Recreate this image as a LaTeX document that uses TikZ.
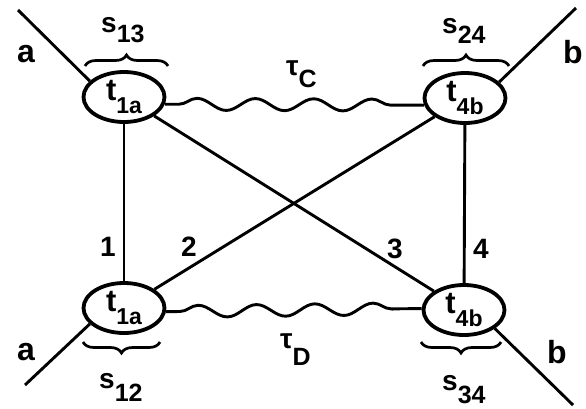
\documentclass[tikz,border=0pt]{standalone}
\usepackage{fontspec}
\setmainfont{Liberation Sans}
\usetikzlibrary{shapes.geometric,decorations.pathmorphing,decorations.pathreplacing}
\newcommand\mysub[3]{\fontsize{28}{30}\selectfont #1\raisebox{-#3}{\fontsize{25}{27}\selectfont #2}}
\newcommand\myvtx[2]{\fontsize{31}{33}\selectfont #1\raisebox{-13pt}{\fontsize{23}{25}\selectfont #2}}
\begin{document}
\begin{tikzpicture}[x=1pt,y=-1pt,
  font=\bfseries,
  vtx/.style={ellipse, draw, line width=3.8pt, minimum width=81pt, minimum height=50pt, inner sep=0pt},
  edge/.style={line width=2.9pt},
  wavy/.style={line width=2.9pt, decorate, decoration={snake, segment length=58.3pt, amplitude=6pt, pre length=14pt, post length=8pt}},
  bracestyle/.style={line width=2.7pt, decorate, decoration={brace, amplitude=11pt}},
  mirrorbrace/.style={line width=2.7pt, decorate, decoration={brace, mirror, amplitude=11pt}},
  lbl/.style={anchor=base west, inner sep=0pt},
  big/.style={lbl, font=\fontsize{32}{34}\selectfont\bfseries},
  num/.style={lbl, font=\fontsize{28}{30}\selectfont\bfseries}
]
\useasboundingbox (0,0) rectangle (586,408);

% vertices
\node[vtx] (TL) at (124,97)  {\myvtx{t}{1a}};
\node[vtx] (TR) at (465,98)  {\myvtx{t}{4b}};
\node[vtx] (BL) at (124,308) {\myvtx{t}{1a}};
\node[vtx] (BR) at (464,310) {\myvtx{t}{4b}};

% external line ends
\coordinate (ATL) at (18,10);
\coordinate (BTR) at (576,8);
\coordinate (ABL) at (25,385);
\coordinate (BBR) at (573,405);

\draw[edge] (ATL) -- (TL.155);
\draw[edge] (BTR) -- (TR.25);
\draw[edge] (ABL) -- (BL.205);
\draw[edge] (BBR) -- (BR.-31);

% internal lines
\draw[edge] (TL) -- (BL);
\draw[edge] (TR) -- (BR);
\draw[edge] (TL) -- (BR);
\draw[edge] (BL) -- (TR);

% wavy lines
\draw[wavy] (TL.-10) -- (TR.190);
\draw[wavy] (BL.-5) -- (BR.178);

% braces
\draw[bracestyle] (85,66) -- (168,66);
\draw[bracestyle] (423,66) -- (509,66);
\draw[mirrorbrace] (83,342) -- (160,342);
\draw[mirrorbrace] (421,342) -- (501,342);

% labels
\node[lbl] (s13) at (101,32) {\mysub{s}{13}{10pt}};
\node[lbl] (s24) at (442,33) {\mysub{s}{24}{10pt}};
\node[lbl] (s12) at (99,388) {\mysub{s}{12}{13pt}};
\node[lbl] (s34) at (442,390) {\mysub{s}{34}{13pt}};
\node[lbl] (tauC) at (286,75) {\mysub{τ}{C}{12pt}};
\node[lbl] (tauD) at (280,348) {\mysub{τ}{D}{17pt}};

\node[big] (la1) at (17,62) {a};
\node[big] (lb1) at (563,63) {b};
\node[big] (la2) at (17,360) {a};
\node[big] (lb2) at (547,363) {b};

\node[num] (n1) at (100,256) {1};
\node[num] (n2) at (181,256) {2};
\node[num] (n3) at (387,258) {3};
\node[num] (n4) at (473,258) {4};
\end{tikzpicture}
\end{document}
